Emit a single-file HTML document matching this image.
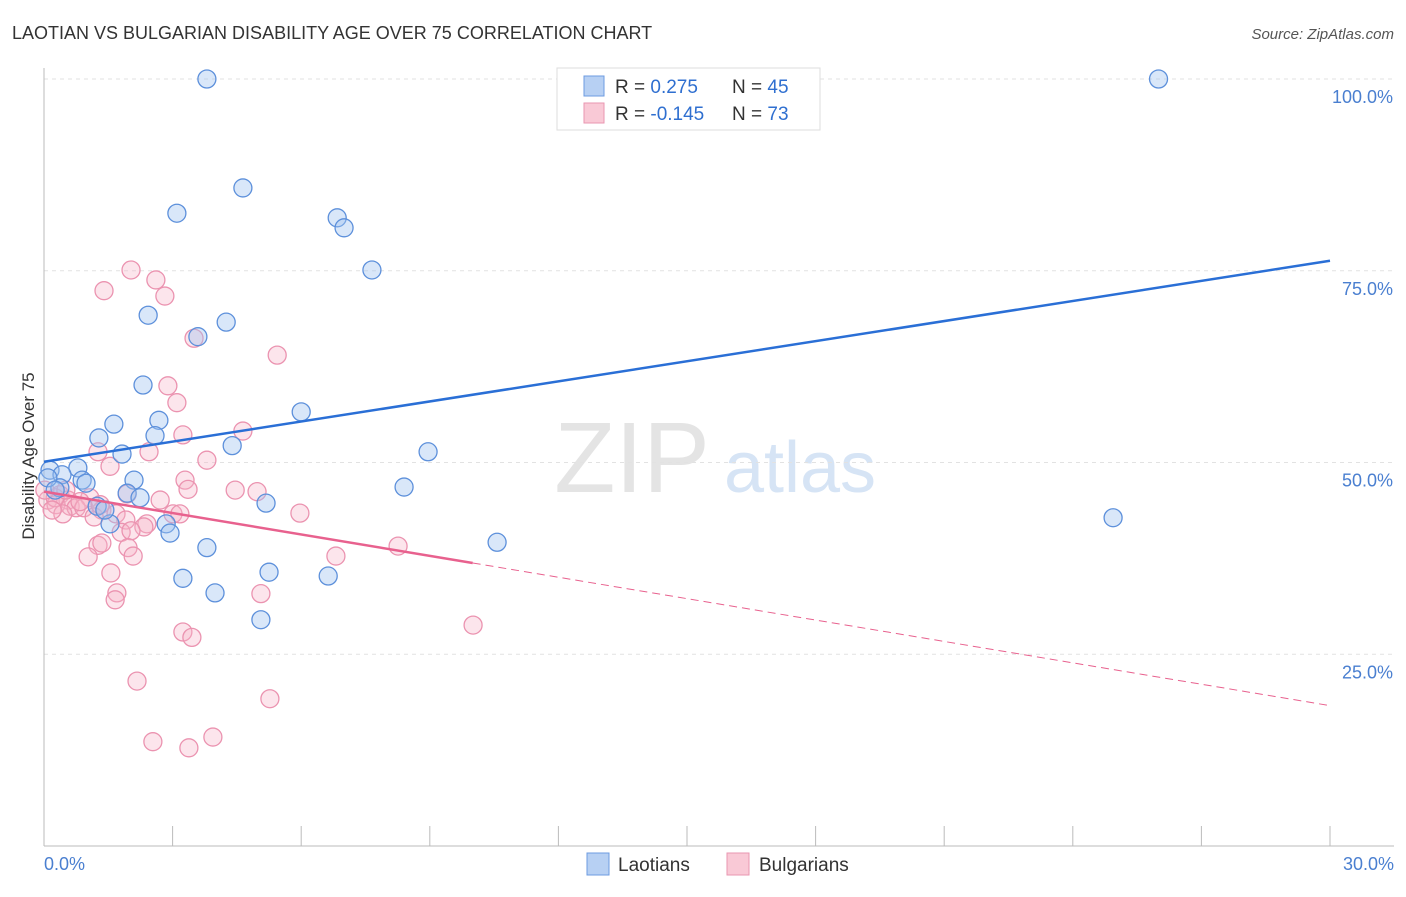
<!DOCTYPE html>
<html><head><meta charset="utf-8"><style>
body{margin:0;background:#fff;font-family:"Liberation Sans",sans-serif}
svg text{font-family:"Liberation Sans",sans-serif}
</style></head><body>
<svg width="1406" height="892" xmlns="http://www.w3.org/2000/svg">
<text x="12" y="39" font-size="18" fill="#333">LAOTIAN VS BULGARIAN DISABILITY AGE OVER 75 CORRELATION CHART</text>
<text x="1394" y="39" font-size="15" fill="#555" font-style="italic" text-anchor="end">Source: ZipAtlas.com</text>
<text x="632" y="492" font-size="100" fill="#e4e4e4" font-family="Liberation Serif" text-anchor="middle">ZIP</text>
<text x="800" y="492" font-size="72" fill="#d6e4f5" text-anchor="middle">atlas</text>
<g id="grid"></g><g id="axes"></g><g id="pts"></g><g id="trends"></g>
<text transform="translate(34,456) rotate(-90)" font-size="17" fill="#333" text-anchor="middle">Disability Age Over 75</text>
<text x="44" y="870" font-size="18" fill="#4a7fd0">0.0%</text>
<text x="1394" y="870" font-size="18" fill="#4a7fd0" text-anchor="end">30.0%</text>
<g>
<rect x="557" y="68" width="263" height="62" fill="#fff" stroke="#ddd"/>
<rect x="584" y="76" width="20" height="20" fill="#b7d0f3" stroke="#6c9be0"/>
<rect x="584" y="103" width="20" height="20" fill="#f9c9d6" stroke="#e996b0"/>
<text x="615" y="93" font-size="19" fill="#333">R = <tspan fill="#2f6fd0">0.275</tspan><tspan x="732">N = </tspan><tspan fill="#2f6fd0">45</tspan></text>
<text x="615" y="120" font-size="19" fill="#333">R = <tspan fill="#2f6fd0">-0.145</tspan><tspan x="732">N = </tspan><tspan fill="#2f6fd0">73</tspan></text>
</g>
<g>
<rect x="587" y="853" width="22" height="22" fill="#b7d0f3" stroke="#6c9be0"/>
<text x="618" y="871" font-size="19" fill="#333">Laotians</text>
<rect x="727" y="853" width="22" height="22" fill="#f9c9d6" stroke="#e996b0"/>
<text x="759" y="871" font-size="19" fill="#333">Bulgarians</text>
</g>
</svg>
<script>
const yTicks=[25,50,75,100];
const yTickLabels=["25.0%","50.0%","75.0%","100.0%"];
const laoX=[3.80,26.0,4.64,3.10,6.84,7.0,7.65,2.43,4.25,3.59,2.31,6.0,2.68,1.63,2.59,1.28,4.39,8.96,1.82,0.14,0.79,0.42,0.89,0.98,2.10,0.37,1.94,2.24,1.24,5.18,8.40,1.54,2.85,2.94,10.57,3.80,24.94,3.24,5.25,6.63,3.99,5.06,0.09,0.26,1.42];
const laoY=[100,100,85.8,82.5,81.9,80.6,75.1,69.2,68.3,66.4,60.1,56.6,55.5,55.0,53.5,53.2,52.2,51.4,51.1,49.0,49.3,48.4,47.7,47.3,47.7,46.7,46.0,45.4,44.3,44.7,46.8,42.0,42.0,40.8,39.6,38.9,42.8,34.9,35.7,35.2,33.0,29.5,48.0,46.4,43.8];
const bulX=[2.03,2.61,1.40,2.82,3.50,5.44,2.89,3.10,4.64,3.24,2.45,1.26,3.80,1.54,3.29,3.36,4.46,4.97,1.94,0.37,1.07,0.56,0.09,0.28,0.61,0.75,0.93,1.35,1.68,0.44,5.97,3.01,3.17,1.17,1.91,2.40,2.33,1.80,1.26,2.03,1.35,1.96,6.81,8.26,1.03,2.08,1.56,5.06,1.70,1.66,10.01,3.24,3.45,2.17,5.27,3.94,2.54,3.38,0.26,0.19,0.84,0.02,0.51,1.31,2.71];
const bulY=[75.1,73.8,72.4,71.7,66.2,64.0,60.0,57.8,54.1,53.6,51.4,51.4,50.3,49.5,47.7,46.5,46.4,46.2,45.9,45.8,45.4,45.1,45.1,44.5,44.3,44.1,44.1,43.8,43.3,43.3,43.4,43.3,43.3,42.9,42.5,42.0,41.6,40.9,39.2,41.1,39.5,38.9,37.8,39.1,37.7,37.8,35.6,32.9,33.0,32.1,28.8,27.9,27.2,21.5,19.2,14.2,13.6,12.8,45.4,43.8,44.9,46.4,46.4,44.5,45.1];
const laoTrend=[50.1,76.3];
const bulTrend=[46.2,18.3];
const bulSolidEnd=10.0;
const NS="http://www.w3.org/2000/svg";
const X=v=>44+v/30*1286;
const Y=v=>846-v/100*767;
function mk(t,a,p){const e=document.createElementNS(NS,t);for(const k in a)e.setAttribute(k,a[k]);document.getElementById(p).appendChild(e);return e;}
yTicks.forEach((t,i)=>{
 const g=mk('line',{x1:44,x2:1394,y1:Y(t),y2:Y(t),stroke:'#e2e2e2','stroke-dasharray':'4,4'},'grid');
 
 
 const tx=mk('text',{x:1393,y:Y(t)+24,'font-size':18,fill:'#4a7fd0','text-anchor':'end'},'grid');
 tx.textContent=yTickLabels[i];
 
 
});
const ya=mk('line',{x1:44,x2:44,y1:68,y2:846,stroke:'#bbb'},'axes');


const xa=mk('line',{x1:44,x2:1394,y1:846,y2:846,stroke:'#bbb'},'axes');


for(let i=1;i<=10;i++){const tk=mk('line',{x1:X(i*3),x2:X(i*3),y1:826,y2:846,stroke:'#bbb'},'axes');
 
 }
bulX.forEach((v,i)=>{const c=mk('circle',{cx:X(v),cy:Y(bulY[i]),r:9,fill:'rgba(246,180,200,0.35)',stroke:'#eb93b0','stroke-width':1.3},'pts');
 
 });
laoX.forEach((v,i)=>{const c=mk('circle',{cx:X(v),cy:Y(laoY[i]),r:9,fill:'rgba(160,195,240,0.4)',stroke:'#5d90db','stroke-width':1.3},'pts');
 
 });
const lt=mk('line',{x1:X(0),y1:Y(laoTrend[0]),x2:X(30),y2:Y(laoTrend[1]),stroke:'#2a6fd6','stroke-width':2.5},'trends');


const by=x=>bulTrend[0]+(bulTrend[1]-bulTrend[0])*x/30;
const bs=mk('line',{x1:X(0),y1:Y(by(0)),x2:X(bulSolidEnd),y2:Y(by(bulSolidEnd)),stroke:'#e8618e','stroke-width':2.5},'trends');


const bd=mk('line',{x1:X(bulSolidEnd),y1:Y(by(bulSolidEnd)),x2:X(30),y2:Y(by(30)),stroke:'#e8618e','stroke-width':1,'stroke-dasharray':'8,5'},'trends');


</script>
</body></html>
